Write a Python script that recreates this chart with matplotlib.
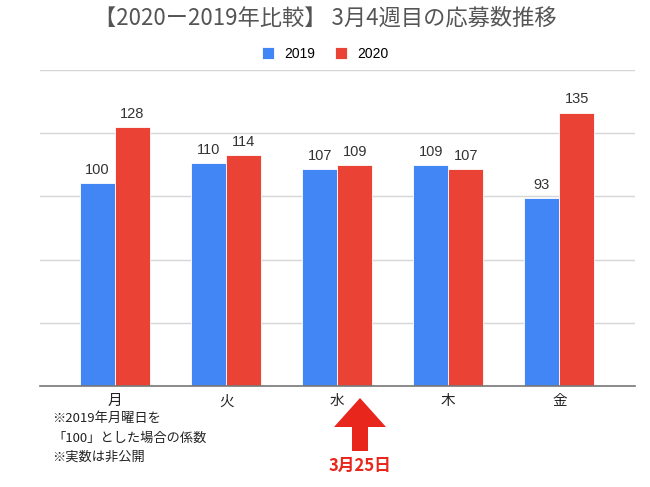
import numpy as np
import matplotlib.pyplot as plt
from matplotlib.patches import FancyArrow

plt.rcParams["font.family"] = ["Noto Sans CJK JP", "DejaVu Sans"]

days = ["月", "火", "水", "木", "金"]
values_2019 = [100, 110, 107, 109, 93]
values_2020 = [128, 114, 109, 107, 135]
series_labels = ["2019", "2020"]

title = "【2020ー2019年比較】 3月4週目の応募数推移"
notes = ["※2019年月曜日を", "「100」とした場合の係数", "※実数は非公開"]
arrow_label = "3月25日"

BLUE = "#4285F4"
RED = "#EA4335"
ARROW_RED = "#E8261C"

W, H = 650, 487
fig = plt.figure(figsize=(W / 100, H / 100), dpi=100)
ax = fig.add_axes([40 / W, 1 - 386 / H, 595 / W, 316 / H])

x = np.arange(len(days))
bw = 0.315
b1 = ax.bar(x - bw / 2, values_2019, bw, color=BLUE, label=series_labels[0],
            edgecolor="white", linewidth=0.6)
b2 = ax.bar(x + bw / 2, values_2020, bw, color=RED, label=series_labels[1],
            edgecolor="white", linewidth=0.6)

# value labels above each bar
for bars in (b1, b2):
    for r in bars:
        ax.text(r.get_x() + r.get_width() / 2, r.get_height() + 3,
                f"{r.get_height():.0f}", ha="center", va="bottom",
                fontsize=10.5, color="#333333",
                family=["Liberation Sans", "DejaVu Sans"])

ymax = 156
ax.set_ylim(0, ymax)
ax.set_xlim(-0.675, 4.68)
ax.set_yticks(np.linspace(0, ymax, 6))
ax.set_yticklabels([])
ax.tick_params(axis="y", length=0)
ax.tick_params(axis="x", length=0, labelsize=10.5, pad=6)
ax.set_xticks(x)
ax.set_xticklabels(days, color="#222222")
ax.grid(axis="y", color="#d6d6d6", linewidth=1)
ax.set_axisbelow(True)
for s in ["top", "right", "left"]:
    ax.spines[s].set_visible(False)
ax.spines["bottom"].set_color("#777777")
ax.spines["bottom"].set_linewidth(1.2)

fig.text(0.5, 1 - 18 / H, title, ha="center", va="center",
         fontsize=16, color="#555555")

fig.legend(handles=[b1, b2], loc="center", bbox_to_anchor=(0.5, 1 - 54 / H),
           ncol=2, frameon=False, handlelength=0.9, handleheight=0.95,
           columnspacing=1.4, handletextpad=0.7,
           prop={"family": ["Liberation Sans", "DejaVu Sans"], "size": 10})

note_y = [418, 438, 457]
for t, ny in zip(notes, note_y):
    fig.text(52 / W, 1 - ny / H, t, ha="left", va="center", fontsize=9.5,
             color="#222222")

# red arrow pointing at Wednesday
arrow = FancyArrow(360 / W, 1 - 451 / H, 0, (451 - 398) / H,
                   width=16 / W, head_width=52 / W, head_length=29 / H,
                   length_includes_head=True, color=ARROW_RED, linewidth=0,
                   transform=fig.transFigure)
fig.patches.append(arrow)
fig.text(360 / W, 1 - 466 / H, arrow_label, ha="center", va="center",
         fontsize=12, fontweight="bold", color=ARROW_RED)

fig.savefig("out.png", dpi=100)
